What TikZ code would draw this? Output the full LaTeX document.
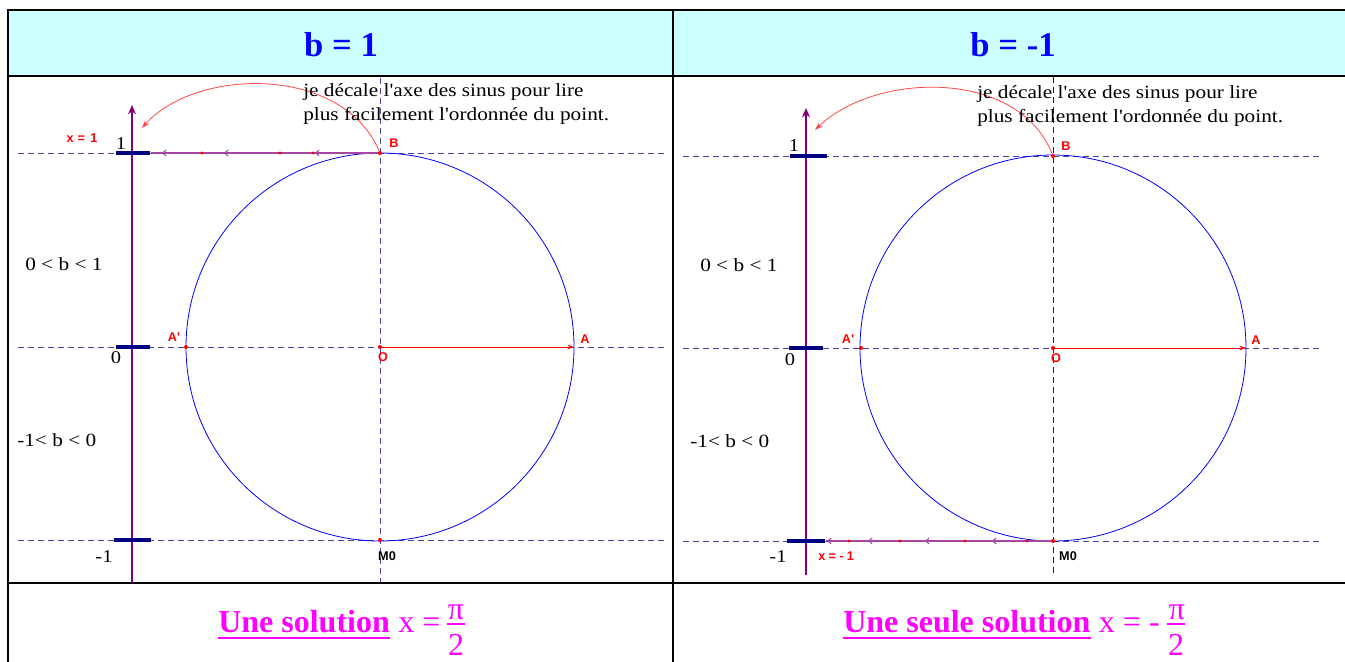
\documentclass[tikz,border=0pt]{standalone}
\usepackage{fontspec}
\setmainfont{Liberation Serif}[Ligatures=TeXOff]
\setsansfont{Liberation Sans}[Ligatures=TeXOff]
\newfontfamily\notefont{Liberation Serif}[FakeStretch=1.14, Ligatures=TeXOff]
\usetikzlibrary{arrows.meta}
\definecolor{titlebg}{RGB}{204,255,255}
\definecolor{axpurple}{RGB}{128,0,128}
\definecolor{ticknavy}{RGB}{0,0,128}
\definecolor{dashcol}{RGB}{70,70,170}
\definecolor{vdashdark}{RGB}{20,20,110}
\definecolor{magentat}{RGB}{255,0,255}
\definecolor{arcred}{RGB}{255,70,70}
\definecolor{movepurple}{RGB}{165,70,165}
\tikzset{
  border/.style={line width=2.2pt, black},
  hdash/.style={dashcol, dash pattern=on 4.5pt off 3pt, line width=0.7pt},
  vdash/.style={dashcol, dash pattern=on 4.5pt off 3pt, line width=0.7pt},
  circ/.style={blue, line width=0.6pt},
  axisline/.style={axpurple, line width=2.2pt, -{Stealth[length=7pt,width=6pt]}},
  tickmark/.style={ticknavy, line width=3pt},
  ptdot/.style={circle, fill=red, inner sep=0pt, minimum size=3pt},
  lbl/.style={font=\sffamily\bfseries\fontsize{9.5}{10}\selectfont, text=red, inner sep=0pt},
  num/.style={font=\notefont\fontsize{13.5}{15}\selectfont, inner sep=0pt},
  note/.style={font=\notefont\fontsize{14}{16}\selectfont, inner sep=0pt},
  titletext/.style={font=\bfseries\fontsize{26}{30}\selectfont, text=blue, inner sep=0pt},
  soltext/.style={font=\fontsize{24}{28}\selectfont, text=magentat, inner sep=0pt},
  ulline/.style={magentat, line width=2.2pt},
  fracrule/.style={magentat, line width=1.5pt},
  redarrow/.style={red, line width=0.6pt, -{Stealth[length=5pt,width=3.5pt]}},
  arcarrow/.style={arcred, line width=0.6pt, -{Stealth[length=6pt,width=4pt]}},
  moveline/.style={movepurple, line width=0.8pt},
  movehead/.style={movepurple, line width=0.8pt, -{Straight Barb[length=2.5pt,width=4.5pt]}},
  movedot/.style={circle, fill=red, inner sep=0pt, minimum size=2.5pt},
}
\begin{document}
\begin{tikzpicture}[x=0.75pt,y=-0.75pt]
\useasboundingbox (0,0) rectangle (1345,661);
% ---------- table ----------
\fill[titlebg] (8,10) rectangle (1345,76);
\draw[border] (1346,10) -- (8,10) -- (8,662);
\draw[border] (8,76) -- (1346,76);
\draw[border] (8,583) -- (1346,583);
\draw[border] (673,10) -- (673,662);
\node[titletext] (t1) at (341,45) {b = 1};
\node[titletext] (t2) at (1013,45) {b = -1};

% ================= LEFT PANEL =================
\draw[hdash] (18,153) -- (665,153);
\draw[hdash] (18,347) -- (665,347);
\draw[hdash] (18,540) -- (665,540);
\draw[vdash] (380,78) -- (380,583);
\draw[circ] (380,347) circle[radius=145.5pt];
\coordinate (axb1) at (132,583);
\coordinate (axt1) at (132,105);
\draw[axisline] (axb1) -- (axt1);
\draw[tickmark] (116,153) -- (150,153);
\draw[tickmark] (116,347) -- (150,347);
\draw[tickmark] (114,540) -- (151,540);
\node[ptdot] (O1) at (380,347) {};
\coordinate (A1) at (574,347);
\node[ptdot] (Ap1) at (186,347) {};
\node[ptdot] (B1) at (380,153) {};
\node[ptdot] (M1) at (380,540) {};
\draw[redarrow] (O1) -- (A1);
% moving point along y=153
\coordinate (te1) at (151,153);
\draw[moveline] (B1) -- (te1);
\foreach \xx in {162,224,315} {\draw[movehead] (\xx+7,153) -- (\xx,153);}
\foreach \xx in {202,280,313} {\node[movedot] at (\xx,153) {};}
% arc arrow
\coordinate (ae1) at (142,128);
\draw[arcarrow] (B1) .. controls (342,64) and (195,68) .. (ae1);
% labels
\node[lbl] (lA1) at (585,339) {A};
\node[lbl] (lAp1) at (174,337) {A'};
\node[lbl] (lB1) at (394,143) {B};
\node[lbl] (lO1) at (383,357) {O};
\node[lbl, text=black] (lM1) at (387,556) {M0};
\node[lbl] (lx1) at (82,138) {x\hspace{3pt}=\hspace{4pt}1};
\node[num] (n11) at (121,144) {1};
\node[num] (n01) at (116,358) {0};
\node[num] (nm11) at (104,557) {-1};
\node[note, anchor=base west] (r11) at (25,270) {0 < b < 1};
\node[note, anchor=base west] (r21) at (17,446) {-1< b < 0};
\node[note, anchor=base west] (c11) at (303,96) {je décale l'axe des sinus pour lire};
\node[note, anchor=base west] (c21) at (303,120) {plus facilement l'ordonnée du point.};

% ================= RIGHT PANEL =================
\draw[hdash] (683,156) -- (1323,156);
\draw[hdash] (683,348) -- (1323,348);
\draw[hdash] (683,541) -- (1323,541);
\draw[vdash, vdashdark] (1053,77) -- (1053,575);
\draw[circ] (1053,348) circle[radius=144.75pt];
\coordinate (axb2) at (806,575);
\coordinate (axt2) at (806,108);
\draw[axisline] (axb2) -- (axt2);
\draw[tickmark] (790,156) -- (827,156);
\draw[tickmark] (789,348) -- (823,348);
\draw[tickmark] (787,541) -- (825,541);
\node[ptdot] (O2) at (1053,348) {};
\coordinate (A2) at (1246,348);
\node[ptdot] (Ap2) at (861,348) {};
\node[ptdot] (B2) at (1053,156) {};
\node[ptdot] (M2) at (1053,541) {};
\draw[redarrow] (O2) -- (A2);
% moving point along y=541
\coordinate (te2) at (826,541);
\draw[moveline] (M2) -- (te2);
\foreach \xx in {827,868,925,992} {\draw[movehead] (\xx+7,541) -- (\xx,541);}
\foreach \xx in {849,900,965,1027} {\node[movedot] at (\xx,541) {};}
% arc arrow
\coordinate (ae2) at (815,130);
\draw[arcarrow] (B2) .. controls (1018,68) and (875,72) .. (ae2);
% labels
\node[lbl] (lA2) at (1256,340) {A};
\node[lbl] (lAp2) at (848,339) {A'};
\node[lbl] (lB2) at (1066,146) {B};
\node[lbl] (lO2) at (1056,358) {O};
\node[lbl, text=black] (lM2) at (1068,556) {M0};
\node[lbl, anchor=west] (lx2) at (818,556) {x\hspace{2.5pt}=\hspace{2.5pt}-\hspace{2.5pt}1};
\node[num] (n12) at (794,146) {1};
\node[num] (n02) at (790,360) {0};
\node[num] (nm12) at (778,557) {-1};
\node[note, anchor=base west] (r12) at (700,271) {0 < b < 1};
\node[note, anchor=base west] (r22) at (690,447) {-1< b < 0};
\node[note, anchor=base west] (c12) at (977,98) {je décale l'axe des sinus pour lire};
\node[note, anchor=base west] (c22) at (977,122) {plus facilement l'ordonnée du point.};

% ================= BOTTOM ROW =================
\node[soltext, anchor=base west] (u1) at (218,632) {\bfseries Une solution};
\draw[ulline] ([yshift=-4.5pt]u1.base west) -- ([yshift=-4.5pt]u1.base east);
\node[soltext, anchor=base west] (f1) at ([xshift=6pt]u1.base east) {x =};
\node[soltext] (pi1) at (456,612) {π};
\node[soltext] (two1) at (456,645) {2};
\draw[fracrule] (447,624) -- (465,624);
\node[soltext, anchor=base west] (u2) at (843,632) {\bfseries Une seule solution};
\draw[ulline] ([yshift=-4.5pt]u2.base west) -- ([yshift=-4.5pt]u2.base east);
\node[soltext, anchor=base west] (f2) at ([xshift=6pt]u2.base east) {x = -};
\node[soltext] (pi2) at (1177,612) {π};
\node[soltext] (two2) at (1176,645) {2};
\draw[fracrule] (1167,624) -- (1185,624);
\end{tikzpicture}
\end{document}
